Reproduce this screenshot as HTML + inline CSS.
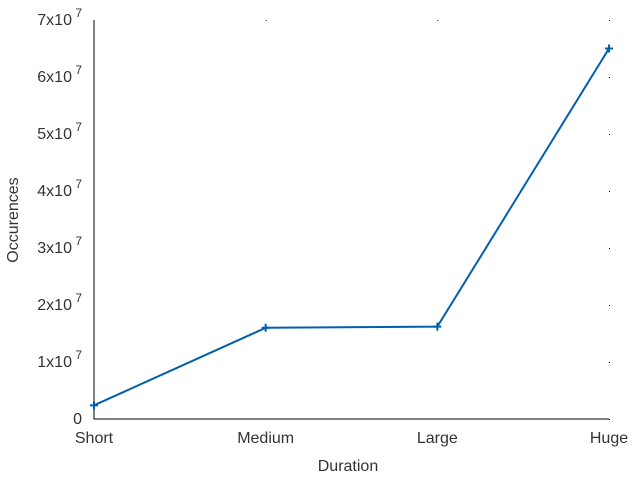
<!DOCTYPE html>
<html><head><meta charset="utf-8"><style>body{margin:0;background:#fff}svg{display:block}text{font-family:"Liberation Sans",sans-serif;font-size:16px;fill:#333}</style></head>
<body>
<svg id="c" width="640" height="480">
<text x="348" y="471" text-anchor="middle">Duration</text>
<text transform="translate(18,220) rotate(-90)" text-anchor="middle">Occurences</text>
</svg>
<script>
const categories=["Short","Medium","Large","Huge"];
const values=[2.4e6,1.6e7,1.62e7,6.5e7];
const yTicks=[0,1,2,3,4,5,6,7];
const NS="http://www.w3.org/2000/svg",svg=document.getElementById('c');
const L=94,R=609,T=20,B=419;
const xs=i=>L+i*(R-L)/(categories.length-1);
const ys=v=>B-v/7e7*(B-T);
function mk(t,a,p){const e=document.createElementNS(NS,t);for(const k in a)e.setAttribute(k,a[k]);(p||svg).appendChild(e);return e;}
const ax=mk('path',{d:`M${L},${T}V${B}H${R}`,stroke:'#000',fill:'none','stroke-width':1});


yTicks.forEach(t=>{const y=ys(t*1e7);
 const tx=mk('text',{x:L-12,y:y+5,'text-anchor':'end'});
 
 
 if(t===0)tx.textContent='0';else{tx.textContent=t+'x10';const s=mk('tspan',{dy:-8,'font-size':'12'},tx);s.textContent=' 7';}
 const d=mk('rect',{x:R,y:y,width:1,height:1,fill:'#000'});
 
 
});
categories.forEach((c,i)=>{const x=xs(i);
 const tx=mk('text',{x:x,y:B+24,'text-anchor':'middle'});
 
 
 tx.textContent=c;
 if(i>0){const d=mk('rect',{x:x,y:T,width:1,height:1,fill:'#000'});
 
 }
});
const line=mk('polyline',{points:values.map((v,i)=>xs(i)+','+ys(v)).join(' '),fill:'none',stroke:'#0060ad','stroke-width':2});


values.forEach((v,i)=>{const x=xs(i),y=ys(v);
 const p=mk('path',{d:`M${x-4},${y}H${x+4}M${x},${y-4}V${y+4}`,stroke:'#0060ad','stroke-width':2});
 
 
});
</script>
</body></html>
